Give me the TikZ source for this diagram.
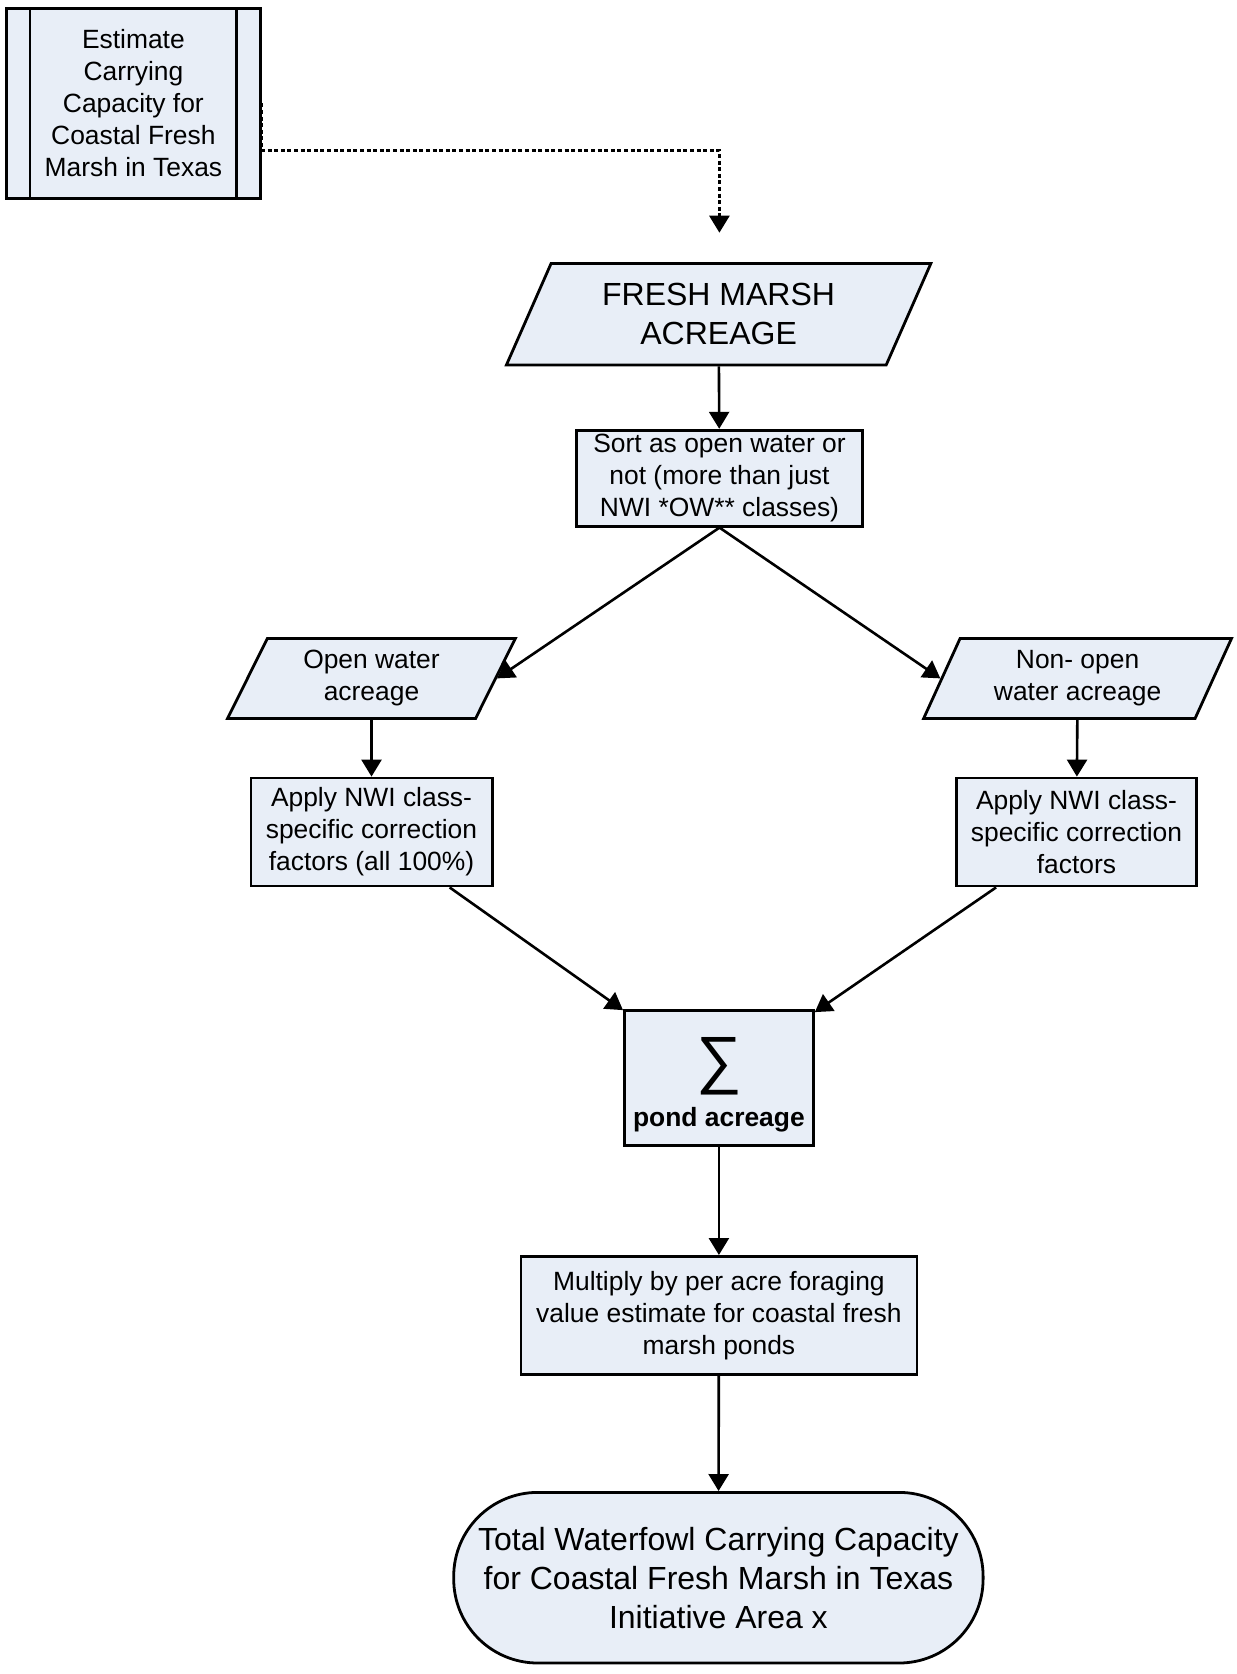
\documentclass[tikz,border=0pt]{standalone}
\usepackage{fontspec}
\setmainfont{Liberation Sans}
\usetikzlibrary{shapes.geometric,arrows.meta}
\definecolor{boxfill}{RGB}{232,238,247}
\tikzset{
  box/.style={draw,fill=boxfill,line width=1.4pt,align=center,inner sep=0pt,
    font=\fontsize{13.2}{16}\selectfont},
  io/.style={box,trapezium,trapezium left angle=65,trapezium right angle=115,
    trapezium stretches},
  subproc/.style={box,path picture={
    \draw[line width=1.4pt] ([xshift=11.8pt]path picture bounding box.north west)
      -- ([xshift=11.8pt]path picture bounding box.south west);
    \draw[line width=1.4pt] ([xshift=-11.8pt]path picture bounding box.north east)
      -- ([xshift=-11.8pt]path picture bounding box.south east);}},
  flow/.style={-{Triangle[length=8.5pt,width=10pt]},line width=1.3pt},
}
\begin{document}
\begin{tikzpicture}[x=0.5pt,y=-0.5pt]
\useasboundingbox (0,0) rectangle (1236,1674);
\node[subproc,minimum width=127pt,minimum height=95pt] (est) at (133.4,103.5)
  {Estimate\\Carrying\\Capacity for\\Coastal Fresh\\Marsh in Texas};
\node[io,trapezium left angle=63.3,trapezium right angle=116.7,minimum width=212.4pt,minimum height=50.7pt,
  font=\fontsize{16}{19.5}\selectfont] (fma) at (718.6,314.3)
  {FRESH MARSH\\ACREAGE};
\node[box,minimum width=143pt,minimum height=48pt] (sort) at (719.5,478.2)
  {Sort as open water or\\not (more than just\\NWI *OW** classes)};
\node[io,minimum width=144.1pt,minimum height=40pt] (ow) at (371.5,678.4)
  {Open water\\acreage};
\node[io,minimum width=154.2pt,minimum height=40pt] (now) at (1077.6,678.4)
  {Non- open\\water acreage};
\node[box,minimum width=120.6pt,minimum height=54pt] (corrL) at (371.5,832)
  {Apply NWI class-\\specific correction\\factors (all 100\%)};
\node[box,minimum width=120.1pt,minimum height=54pt] (corrR) at (1076.5,832)
  {Apply NWI class-\\specific correction\\factors};
\node[box,minimum width=94.5pt,minimum height=67.2pt] (sum) at (718.9,1078)
  {{\fontsize{32}{32}\selectfont\rule{0pt}{29pt}∑}\\[5pt]\textbf{pond acreage}};
\node[box,minimum width=198pt,minimum height=59.2pt] (mult) at (718.9,1315.6)
  {Multiply by per acre foraging\\value estimate for coastal fresh\\marsh ponds};
\node[box,rounded corners=42pt,minimum width=264.7pt,minimum height=85.3pt,
  font=\fontsize{16}{19.5}\selectfont] (total) at (718.4,1577.7)
  {Total Waterfowl Carrying Capacity\\for Coastal Fresh Marsh in Texas\\Initiative Area x};
\coordinate (dashend) at (719.4,232.7);
\draw[flow,dash pattern=on 2pt off 1.3pt] (est.east) -- ++(0,47) -| (dashend);
\draw[flow] (fma) -- (sort);
\draw[flow] (sort.south) -- (ow.east);
\draw[flow] (sort.south) -- (now.west);
\draw[flow] (ow) -- (corrL);
\draw[flow] (now) -- (corrR);
\draw[flow] (corrL) -- (sum);
\draw[flow] (corrR) -- (sum);
\draw[flow] (sum) -- (mult);
\draw[flow] (mult) -- (total);
\end{tikzpicture}
\end{document}
